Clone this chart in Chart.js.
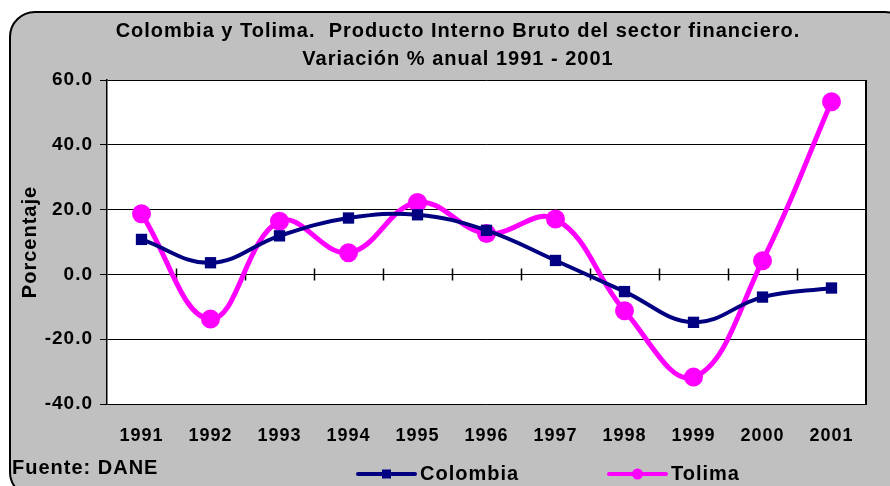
<!DOCTYPE html>
<html>
<head>
<meta charset="utf-8">
<script src="https://cdn.jsdelivr.net/npm/chart.js@4"></script>
<style>
  html, body { margin: 0; padding: 0; background: #fff; }
  canvas { display: block; }
</style>
</head>
<body>
<canvas id="pibChart" width="890" height="486"></canvas>
<script>
const years = ["1991", "1992", "1993", "1994", "1995", "1996", "1997", "1998", "1999", "2000", "2001"];
const colombia = [10.8, 3.6, 11.9, 17.4, 18.4, 13.6, 4.3, -5.3, -14.8, -7.0, -4.2];
const tolima = [18.7, -13.8, 16.4, 6.7, 22.2, 12.6, 17.1, -11.2, -31.7, 4.2, 53.3];
const yTicks = [-40, -20, 0, 20, 40, 60];
const titleLines = ["Colombia y Tolima.  Producto Interno Bruto del sector financiero.", "Variación % anual 1991 - 2001"];
const fuente = "Fuente: DANE";

const FONT = '"Liberation Sans", Arial, sans-serif';
const NAVY = "#000080";
const MAGENTA = "#FF00FF";
const GRAY = "#C0C0C0";

// marco gris redondeado, fondo blanco del área, eje del cero con marcas, títulos y leyenda
const marco = {
  id: "marco",
  beforeDraw(chart) {
    const { ctx, chartArea: a } = chart;
    // todo el texto del gráfico va algo espaciado
    ctx.letterSpacing = "1px";
    ctx.save();
    ctx.fillStyle = "#fff";
    ctx.fillRect(0, 0, chart.width, chart.height);
    ctx.beginPath();
    ctx.roundRect(10, 12, 900, 485, 25);
    ctx.fillStyle = GRAY;
    ctx.fill();
    ctx.lineWidth = 2;
    ctx.strokeStyle = "#000";
    ctx.stroke();
    ctx.fillStyle = "#fff";
    ctx.fillRect(a.left, a.top, a.right - a.left, a.bottom - a.top);
    ctx.restore();
  },
  beforeDatasetsDraw(chart) {
    const { ctx, chartArea: a, scales } = chart;
    const y0 = Math.round(scales.y.getPixelForValue(0)) + 0.5;
    const step = (a.right - a.left) / years.length;
    ctx.save();
    ctx.strokeStyle = "#000";
    ctx.lineWidth = 1.5;
    ctx.beginPath();
    for (let i = 1; i < years.length; i++) {
      const x = Math.round(a.left + i * step) + 0.5;
      ctx.moveTo(x, y0 - 6);
      ctx.lineTo(x, y0 + 6);
    }
    ctx.stroke();
    // borde derecho del área de trazado
    ctx.lineWidth = 2;
    ctx.beginPath();
    ctx.moveTo(a.right, a.top);
    ctx.lineTo(a.right, a.bottom + 1);
    ctx.stroke();
    ctx.restore();
  },
  afterDraw(chart) {
    const { ctx } = chart;
    ctx.save();
    ctx.fillStyle = "#000";
    ctx.font = "bold 20px " + FONT;
    ctx.textAlign = "center";
    ctx.textBaseline = "middle";
    ctx.fillText(titleLines[0], 458, 31);
    ctx.fillText(titleLines[1], 458, 59);

    ctx.textAlign = "left";
    ctx.fillText(fuente, 12, 468);

    // leyenda
    const items = [
      { ds: chart.data.datasets[0], x: 358, square: true },
      { ds: chart.data.datasets[1], x: 609, square: false }
    ];
    items.forEach((it) => {
      const y = 474;
      ctx.strokeStyle = it.ds.borderColor;
      ctx.fillStyle = it.ds.borderColor;
      ctx.lineWidth = 4;
      ctx.lineCap = "round";
      ctx.beginPath();
      ctx.moveTo(it.x, y);
      ctx.lineTo(it.x + 57, y);
      ctx.stroke();
      ctx.beginPath();
      if (it.square) ctx.rect(it.x + 24, y - 4.5, 9, 9);
      else ctx.arc(it.x + 28.5, y, 5.5, 0, Math.PI * 2);
      ctx.fill();
      ctx.fillStyle = "#000";
      ctx.fillText(it.ds.label, it.x + 62, y);
    });
    ctx.restore();
  }
};

new Chart(document.getElementById("pibChart"), {
  type: "line",
  data: {
    labels: years,
    datasets: [
      {
        label: "Colombia",
        data: colombia,
        borderColor: NAVY,
        backgroundColor: NAVY,
        borderWidth: 4,
        tension: 0.4,
        pointStyle: "rect",
        pointRadius: 8,
        pointBorderWidth: 0,
        clip: false
      },
      {
        label: "Tolima",
        data: tolima,
        borderColor: MAGENTA,
        backgroundColor: MAGENTA,
        borderWidth: 5,
        tension: 0.4,
        pointStyle: "circle",
        pointRadius: 9.5,
        pointBorderWidth: 0,
        clip: false
      }
    ]
  },
  options: {
    responsive: false,
    animation: false,
    devicePixelRatio: 1,
    layout: { padding: { left: 10, top: 80, right: 24, bottom: 0 } },
    plugins: {
      legend: { display: false },
      title: { display: false },
      tooltip: { enabled: false }
    },
    scales: {
      x: {
        offset: true,
        grid: { display: false, drawTicks: false, offset: true },
        border: { display: false },
        ticks: {
          color: "#000",
          font: { family: FONT, size: 18, weight: "bold" },
          padding: 21,
          maxRotation: 0
        },
        afterFit(s) { s.height = 82; }
      },
      y: {
        min: yTicks[0],
        max: yTicks[yTicks.length - 1],
        afterBuildTicks(s) { s.ticks = yTicks.map((v) => ({ value: v })); },
        ticks: {
          color: "#000",
          font: { family: FONT, size: 19, weight: "bold" },
          padding: 7,
          callback: (v) => v.toFixed(1)
        },
        grid: { color: "#000", lineWidth: 1, tickLength: 7 },
        border: { display: true, color: "#000", width: 1.5 },
        title: {
          display: true,
          text: "Porcentaje",
          color: "#000",
          font: { family: FONT, size: 20, weight: "bold" },
          padding: { top: 8, bottom: 0 }
        },
        afterFit(s) { s.width = 97; }
      }
    }
  },
  plugins: [marco]
});
</script>
</body>
</html>
